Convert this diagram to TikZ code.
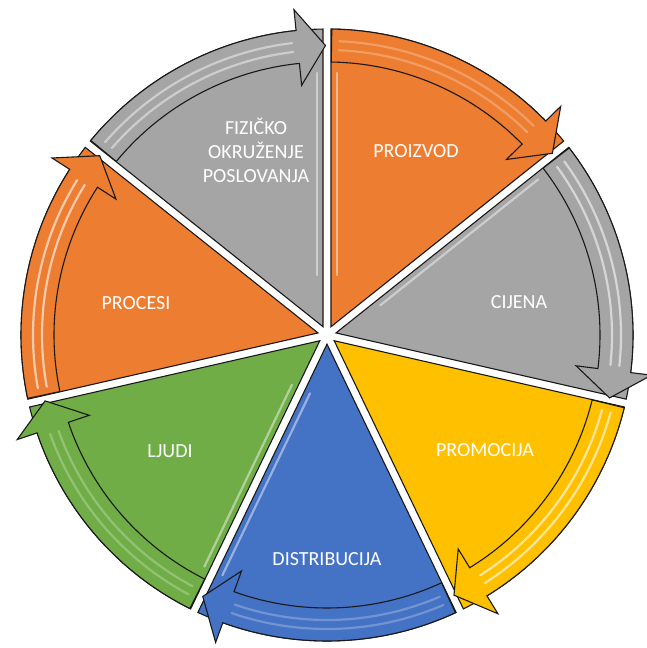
\documentclass[tikz,border=0pt]{standalone}
\usepackage{fontspec}
\setmainfont{Carlito}
\definecolor{corange}{HTML}{ED7D31}
\definecolor{cgray}{HTML}{A5A5A5}
\definecolor{cyellow}{HTML}{FFC000}
\definecolor{cblue}{HTML}{4472C4}
\definecolor{cgreen}{HTML}{70AD47}
\newcommand\segwedge[2]{%
 \begin{scope}[shift={(327,313)}, rotate=#1]
  \filldraw[seg, fill=#2] (9.2,0) -- (-24.96:306) arc[start angle=-24.96, end angle=24.96, radius=306] -- cycle;
 \end{scope}}
\newcommand\segarrow[3]{%
 \pgfmathsetmacro\sA{#1-0.9}%
 \pgfmathsetmacro\bA{#1-51.4286+5.8}%
 \pgfmathsetmacro\tA{#1-51.4286+0.3}%
 \pgfmathsetmacro\sB{#1-2.4}%
 \pgfmathsetmacro\bB{#1-51.4286+6.8}%
 \begin{scope}[shift={(327,313)}]
  \filldraw[seg, fill=#2] (\sA:306) arc[start angle=\sA, end angle=\bA, radius=306] -- (\bA:327) -- (\tA:289.5) -- (\bA:251) -- (\bA:273) arc[start angle=\bA, end angle=\sA, radius=273] -- cycle;
  \draw[shine, opacity=#3] (\sB:285) arc[start angle=\sB, end angle=\bB, radius=285];
  \draw[shine, opacity=#3] (\sB:294) arc[start angle=\sB, end angle=\bB, radius=294];
 \end{scope}}
\newcommand\edgeshine[2]{%
 \begin{scope}[shift={(327,313)}, rotate=#1]
  \draw[shine] (60,#2*10) -- (262,#2*10);
 \end{scope}}
\begin{document}
\begin{tikzpicture}[x=1pt,y=1pt,
  seg/.style={draw=black!90, line width=1.1},
  lbl/.style={text=white, font=\fontsize{20}{24}\selectfont, align=center},
  shine/.style={white, opacity=0.45, line width=2.2, line cap=round}]
\useasboundingbox (0,0) rectangle (646,648);
\coordinate (C) at (327,313);
% wedges
\segwedge{64.2857}{corange}
\segwedge{12.8571}{cgray}
\segwedge{-38.5714}{cyellow}
\segwedge{-90}{cblue}
\segwedge{-141.4286}{cgreen}
\segwedge{167.1429}{corange}
\segwedge{115.7143}{cgray}
% highlights along edges
\edgeshine{90}{-1}
\edgeshine{38.5714}{-1}
\edgeshine{-115.7143}{-1}
\edgeshine{-115.7143}{1}
\edgeshine{90}{1}
% arrows
\segarrow{90}{corange}{0.25}
\segarrow{38.5714}{cgray}{0.55}
\segarrow{-12.8571}{cyellow}{0.6}
\segarrow{-64.2857}{cblue}{0.25}
\segarrow{-115.7143}{cgreen}{0.25}
\segarrow{-167.1429}{corange}{0.6}
\segarrow{141.4286}{cgray}{0.45}
% labels
\node[lbl] (proizvod) at (416,497) {PROIZVOD};
\node[lbl] (cijena) at (519,346) {CIJENA};
\node[lbl] (promocija) at (485,198) {PROMOCIJA};
\node[lbl] (distribucija) at (327,89) {DISTRIBUCIJA};
\node[lbl] (ljudi) at (170,197) {LJUDI};
\node[lbl] (procesi) at (136,345) {PROCESI};
\node[lbl] (fizicko) at (256,498) {FIZIČKO\\OKRUŽENJE\\POSLOVANJA};
\end{tikzpicture}
\end{document}
